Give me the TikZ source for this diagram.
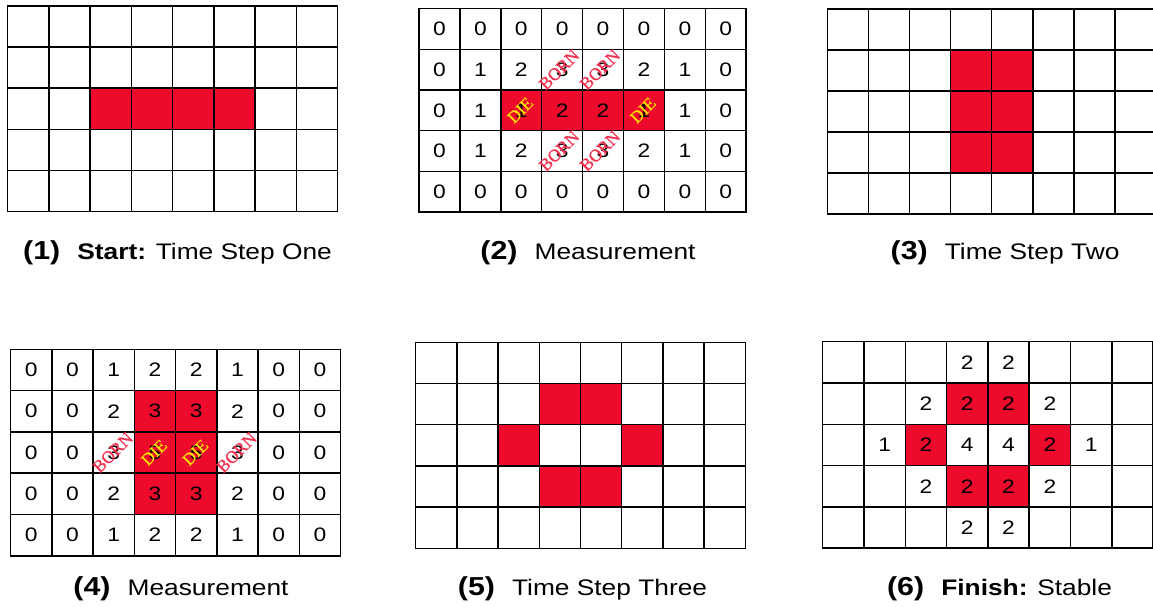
\documentclass[tikz,border=0pt]{standalone}
\usepackage{fontspec}
\setmainfont{Liberation Sans}[FakeStretch=1.17]
\newfontfamily\stampfont{Liberation Serif}[FakeBold=0.8]
\newfontfamily\diefont{Liberation Serif}[FakeBold=0.3]
\definecolor{cellred}{RGB}{237,10,43}
\definecolor{bornred}{RGB}{244,50,80}
\definecolor{dieyellow}{RGB}{250,228,0}
% #1 name, #2 x0, #3 y0, #4 cell width, #5 cell height, #6 rows
\newcommand\lifegrid[6]{%
  \foreach \row [count=\r from 0] in {#6} {
    \foreach \st/\val [count=\c from 0] in \row {
      \node[\st, minimum width=#4pt, minimum height=#5pt]
        (#1-\r-\c) at ({#2+(\c+0.5)*#4},{#3+(\r+0.5)*#5}) {\val};
    }
  }%
}
\begin{document}
\begin{tikzpicture}[x=1pt,y=-1pt,
  dead/.style={draw=black, line width=1.5pt, fill=white, inner sep=0pt, outer sep=0pt,
    font=\fontsize{19.5}{19.5}\selectfont},
  alive/.style={dead, fill=cellred},
  born/.style={rotate=45, text=bornred, inner sep=0pt,
    font=\stampfont\fontsize{17.5}{17.5}\selectfont},
  die/.style={rotate=45, text=dieyellow, inner sep=0pt,
    font=\diefont\fontsize{17}{17}\selectfont},
  caption/.style={anchor=base, inner sep=0pt, font=\fontsize{22.5}{22.5}\selectfont}]
\useasboundingbox (0,0) rectangle (1153,606);
\fill[white] (0,0) rectangle (1153,606);

% ---------- (1) ----------
\lifegrid{ga}{7.5}{6}{41.25}{41.1}{
  {dead/{},dead/{},dead/{},dead/{},dead/{},dead/{},dead/{},dead/{}},
  {dead/{},dead/{},dead/{},dead/{},dead/{},dead/{},dead/{},dead/{}},
  {dead/{},dead/{},alive/{},alive/{},alive/{},alive/{},dead/{},dead/{}},
  {dead/{},dead/{},dead/{},dead/{},dead/{},dead/{},dead/{},dead/{}},
  {dead/{},dead/{},dead/{},dead/{},dead/{},dead/{},dead/{},dead/{}}}

% ---------- (2) ----------
\lifegrid{gb}{419}{8.7}{40.9}{40.66}{
  {dead/0,dead/0,dead/0,dead/0,dead/0,dead/0,dead/0,dead/0},
  {dead/0,dead/1,dead/2,dead/3,dead/3,dead/2,dead/1,dead/0},
  {dead/0,dead/1,alive/1,alive/2,alive/2,alive/1,dead/1,dead/0},
  {dead/0,dead/1,dead/2,dead/3,dead/3,dead/2,dead/1,dead/0},
  {dead/0,dead/0,dead/0,dead/0,dead/0,dead/0,dead/0,dead/0}}
\node[born] (gb-b1) at ([xshift=-3pt]gb-1-3.center) {BORN};
\node[born] (gb-b2) at ([xshift=-3pt]gb-1-4.center) {BORN};
\node[born] (gb-b3) at ([xshift=-3pt]gb-3-3.center) {BORN};
\node[born] (gb-b4) at ([xshift=-3pt]gb-3-4.center) {BORN};
\node[die] (gb-d1) at ([xshift=-1pt]gb-2-2.center) {DIE};
\node[die] (gb-d2) at ([xshift=-1pt]gb-2-5.center) {DIE};

% ---------- (3) ----------
\lifegrid{gc}{827.3}{9}{41.1}{41}{
  {dead/{},dead/{},dead/{},dead/{},dead/{},dead/{},dead/{},dead/{}},
  {dead/{},dead/{},dead/{},alive/{},alive/{},dead/{},dead/{},dead/{}},
  {dead/{},dead/{},dead/{},alive/{},alive/{},dead/{},dead/{},dead/{}},
  {dead/{},dead/{},dead/{},alive/{},alive/{},dead/{},dead/{},dead/{}},
  {dead/{},dead/{},dead/{},dead/{},dead/{},dead/{},dead/{},dead/{}}}

% ---------- (4) ----------
\lifegrid{gd}{10.7}{349.3}{41.25}{41.3}{
  {dead/0,dead/0,dead/1,dead/2,dead/2,dead/1,dead/0,dead/0},
  {dead/0,dead/0,dead/2,alive/3,alive/3,dead/2,dead/0,dead/0},
  {dead/0,dead/0,dead/3,alive/5,alive/5,dead/3,dead/0,dead/0},
  {dead/0,dead/0,dead/2,alive/3,alive/3,dead/2,dead/0,dead/0},
  {dead/0,dead/0,dead/1,dead/2,dead/2,dead/1,dead/0,dead/0}}
\node[born] (gd-b1) at ([xshift=-1pt]gd-2-2.center) {BORN};
\node[born] (gd-b2) at ([xshift=-1pt]gd-2-5.center) {BORN};
\node[die] (gd-d1) at ([xshift=-1pt]gd-2-3.center) {DIE};
\node[die] (gd-d2) at ([xshift=-1pt]gd-2-4.center) {DIE};

% ---------- (5) ----------
\lifegrid{ge}{415.7}{342.3}{41.2}{41.2}{
  {dead/{},dead/{},dead/{},dead/{},dead/{},dead/{},dead/{},dead/{}},
  {dead/{},dead/{},dead/{},alive/{},alive/{},dead/{},dead/{},dead/{}},
  {dead/{},dead/{},alive/{},dead/{},dead/{},alive/{},dead/{},dead/{}},
  {dead/{},dead/{},dead/{},alive/{},alive/{},dead/{},dead/{},dead/{}},
  {dead/{},dead/{},dead/{},dead/{},dead/{},dead/{},dead/{},dead/{}}}

% ---------- (6) ----------
\lifegrid{gf}{822.7}{341.7}{41.3}{41.3}{
  {dead/{},dead/{},dead/{},dead/2,dead/2,dead/{},dead/{},dead/{}},
  {dead/{},dead/{},dead/2,alive/2,alive/2,dead/2,dead/{},dead/{}},
  {dead/{},dead/1,alive/2,dead/4,dead/4,alive/2,dead/1,dead/{}},
  {dead/{},dead/{},dead/2,alive/2,alive/2,dead/2,dead/{},dead/{}},
  {dead/{},dead/{},dead/{},dead/2,dead/2,dead/{},dead/{},dead/{}}}

% ---------- captions ----------
\node[caption] (cap1) at (177.5,259) {{\fontsize{26}{26}\selectfont\bfseries (1)}\hspace{17pt}{\bfseries Start:} Time Step One};
\node[caption] (cap2) at (588,259) {{\fontsize{26}{26}\selectfont\bfseries (2)}\hspace{17pt}Measurement};
\node[caption] (cap3) at (1005,259) {{\fontsize{26}{26}\selectfont\bfseries (3)}\hspace{17pt}Time Step Two};
\node[caption] (cap4) at (181,595) {{\fontsize{26}{26}\selectfont\bfseries (4)}\hspace{17pt}Measurement};
\node[caption] (cap5) at (582.5,595) {{\fontsize{26}{26}\selectfont\bfseries (5)}\hspace{17pt}Time Step Three};
\node[caption] (cap6) at (999.5,595) {{\fontsize{26}{26}\selectfont\bfseries (6)}\hspace{17pt}{\bfseries Finish:} Stable};
\end{tikzpicture}
\end{document}
